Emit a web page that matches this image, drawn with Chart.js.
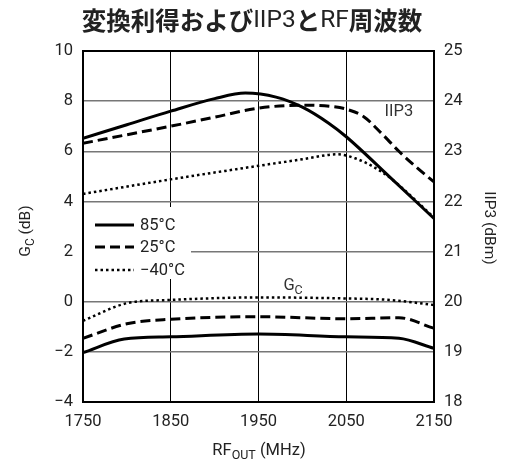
<!DOCTYPE html>
<html><head><meta charset="utf-8">
<script src="https://cdn.jsdelivr.net/npm/chart.js@4/dist/chart.umd.min.js"></script>
<style>html,body{margin:0;padding:0;background:#fff}canvas{display:block}</style>
</head><body>
<canvas id="c" width="514" height="460"></canvas>
<script>
// ---- data ----
const titleText = '変換利得およびIIP3とRF周波数';
const legendLabels = ['85°C', '25°C', '−40°C'];
const freqMin = 1750, freqMax = 2150, freqStep = 100;
const gainMin = -4, gainMax = 10, gainStep = 2;
const iip3Min = 18, iip3Max = 25, iip3Step = 1;

// IIP3 (right axis, dBm)
const iip3F85 = [1750, 1800, 1850, 1900, 1935, 1970, 2000, 2030, 2050, 2100, 2150];
const iip3V85 = [23.26, 23.53, 23.80, 24.05, 24.16, 24.08, 23.88, 23.56, 23.29, 22.48, 21.66];
const iip3F25 = [1750, 1800, 1850, 1900, 1950, 2000, 2035, 2050, 2070, 2090, 2110, 2130, 2150];
const iip3V25 = [23.16, 23.33, 23.50, 23.68, 23.86, 23.92, 23.89, 23.84, 23.69, 23.36, 23.00, 22.68, 22.39];
const iip3FM40 = [1750, 1850, 1950, 2000, 2040, 2060, 2080, 2100, 2150];
const iip3VM40 = [22.15, 22.44, 22.71, 22.84, 22.94, 22.86, 22.70, 22.47, 21.68];

// Conversion gain (left axis, dB)
const gainF85 = [1750, 1797, 1850, 1950, 2050, 2110, 2150];
const gainV85 = [-2.03, -1.49, -1.40, -1.29, -1.40, -1.46, -1.86];
const gainF25 = [1750, 1800, 1850, 1950, 2050, 2110, 2150];
const gainV25 = [-1.46, -0.88, -0.70, -0.60, -0.68, -0.64, -1.06];
const gainFM40 = [1750, 1800, 1850, 1950, 2050, 2100, 2150];
const gainVM40 = [-0.76, -0.06, 0.07, 0.17, 0.13, 0.07, -0.13];

// ---- build ----
const pts = (f, v) => f.map((x, i) => ({x, y: v[i]}));
const styles = [
  {borderWidth: 3, borderDash: []},
  {borderWidth: 3, borderDash: [10, 5]},
  {borderWidth: 2.5, borderDash: [2.5, 3]}
];
const mk = (data, axis, s) => ({
  data, yAxisID: axis, borderColor: '#000', backgroundColor: '#000',
  borderWidth: s.borderWidth, borderDash: s.borderDash, pointRadius: 0,
  fill: false, tension: 0.4, cubicInterpolationMode: 'monotone'
});
const datasets = [
  mk(pts(iip3F85, iip3V85), 'y2', styles[0]),
  mk(pts(iip3F25, iip3V25), 'y2', styles[1]),
  mk(pts(iip3FM40, iip3VM40), 'y2', styles[2]),
  mk(pts(gainF85, gainV85), 'y', styles[0]),
  mk(pts(gainF25, gainV25), 'y', styles[1]),
  mk(pts(gainFM40, gainVM40), 'y', styles[2])
];

const NARROW = 'Roboto, "DejaVu Sans Condensed", sans-serif';
const tickFont = {family: NARROW, size: 16.5};

const deco = {
  id: 'deco',
  beforeDatasetsDraw(chart) {
    const {ctx, chartArea: a} = chart;
    ctx.save();
    ctx.fillStyle = '#fff';
    ctx.fillRect(a.left + 1, 207, 107, 72);
    ctx.restore();
  },
  afterDatasetsDraw(chart) {
    const {ctx, chartArea: a, scales} = chart;
    ctx.save();
    // border
    ctx.strokeStyle = '#000'; ctx.lineWidth = 2;
    ctx.strokeRect(a.left, a.top, a.right - a.left, a.bottom - a.top);
    // legend
    const ly = [225, 247, 270];
    ctx.font = '16.5px ' + NARROW;
    ctx.textBaseline = 'middle'; ctx.textAlign = 'left';
    legendLabels.forEach((lab, i) => {
      const s = styles[i];
      ctx.strokeStyle = '#000'; ctx.lineWidth = s.borderWidth;
      ctx.setLineDash(s.borderDash);
      ctx.beginPath(); ctx.moveTo(95, ly[i]); ctx.lineTo(134, ly[i]); ctx.stroke();
      ctx.setLineDash([]);
      ctx.fillStyle = '#222';
      ctx.fillText(lab, 140, ly[i] + 1);
    });
    // in-plot labels
    ctx.fillStyle = '#333';
    ctx.font = '16.5px ' + NARROW;
    ctx.textAlign = 'center';
    ctx.fillText('IIP3', scales.x.getPixelForValue(2110), scales.y2.getPixelForValue(23.78));
    const gx = scales.x.getPixelForValue(1990), gy = scales.y.getPixelForValue(0.65);
    ctx.textAlign = 'left';
    ctx.fillText('G', gx - 10, gy);
    ctx.font = '12.5px ' + NARROW;
    ctx.fillText('C', gx + 1, gy + 5);
    // title
    const segs = [['変換利得および', 'bold 24.5px "Noto Sans CJK JP"'],
                  ['IIP3', '24.5px Roboto, sans-serif'],
                  ['と', 'bold 24.5px "Noto Sans CJK JP"'],
                  ['RF', '24.5px Roboto, sans-serif'],
                  ['周波数', 'bold 24.5px "Noto Sans CJK JP"']];
    let tw = 0;
    segs.forEach(([t, f]) => { ctx.font = f; tw += ctx.measureText(t).width; });
    let tx = 252 - tw / 2;
    ctx.fillStyle = '#222'; ctx.textAlign = 'left'; ctx.textBaseline = 'middle';
    segs.forEach(([t, f]) => { ctx.font = f; ctx.fillText(t, tx, 21); tx += ctx.measureText(t).width; });
    // x axis title
    ctx.textBaseline = 'alphabetic';
    const p1 = 'RF', p2 = 'OUT', p3 = ' (MHz)';
    ctx.font = '16.5px ' + NARROW; const w1 = ctx.measureText(p1).width, w3 = ctx.measureText(p3).width;
    ctx.font = '12.5px ' + NARROW; const w2 = ctx.measureText(p2).width;
    let xx = 259 - (w1 + w2 + w3) / 2;
    ctx.font = '16.5px ' + NARROW; ctx.fillText(p1, xx, 455); xx += w1;
    ctx.font = '12.5px ' + NARROW; ctx.fillText(p2, xx, 459); xx += w2;
    ctx.font = '16.5px ' + NARROW; ctx.fillText(p3, xx, 455);
    // left axis title
    ctx.save();
    ctx.translate(30, 231); ctx.rotate(-Math.PI / 2);
    ctx.font = '15.5px ' + NARROW; const a1 = ctx.measureText('G').width, a3 = ctx.measureText(' (dB)').width;
    ctx.font = '12px ' + NARROW; const a2 = ctx.measureText('C').width;
    let ax = -(a1 + a2 + a3) / 2;
    ctx.font = '15.5px ' + NARROW; ctx.fillText('G', ax, 0); ax += a1;
    ctx.font = '12px ' + NARROW; ctx.fillText('C', ax, 4); ax += a2;
    ctx.font = '15.5px ' + NARROW; ctx.fillText(' (dB)', ax, 0);
    ctx.restore();
    // right axis title
    ctx.save();
    ctx.translate(485, 228); ctx.rotate(Math.PI / 2);
    ctx.font = '15.5px ' + NARROW; ctx.textAlign = 'center';
    ctx.fillText('IIP3 (dBm)', 0, 0);
    ctx.restore();
    ctx.restore();
  }
};

new Chart(document.getElementById('c'), {
  type: 'line',
  data: {datasets},
  options: {
    responsive: false, animation: false,
    layout: {padding: {left: 0, right: 0, top: 51, bottom: 0}},
    plugins: {legend: {display: false}, tooltip: {enabled: false}},
    scales: {
      x: {
        type: 'linear', min: freqMin, max: freqMax,
        ticks: {stepSize: freqStep, font: tickFont, color: '#222', padding: 10, maxRotation: 0,
          callback: v => String(v)},
        grid: {color: '#000', lineWidth: 1, drawTicks: false},
        border: {display: false},
        afterFit(s) { s.height = 58; }
      },
      y: {
        position: 'left', min: gainMin, max: gainMax,
        ticks: {stepSize: gainStep, font: tickFont, color: '#222', padding: 10,
          callback: v => String(v).replace('-', '−')},
        grid: {color: '#777', lineWidth: 1.5, drawTicks: false},
        border: {display: false},
        afterFit(s) { s.width = 83; }
      },
      y2: {
        position: 'right', min: iip3Min, max: iip3Max,
        ticks: {stepSize: iip3Step, font: tickFont, color: '#222', padding: 10,
          callback: v => String(v)},
        grid: {display: false, drawTicks: false},
        border: {display: false},
        afterFit(s) { s.width = 80; }
      }
    }
  },
  plugins: [deco]
});
</script>
</body></html>
